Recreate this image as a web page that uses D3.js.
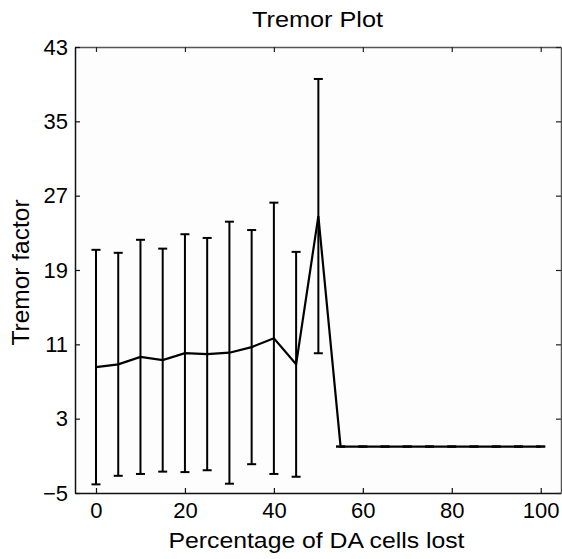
<!DOCTYPE html>
<html>
<head>
<meta charset="utf-8">
<script src="https://cdn.jsdelivr.net/npm/d3@7"></script>
<style>
  html, body { margin: 0; padding: 0; background: #fff; }
  svg { display: block; font-family: "Liberation Sans", Arial, sans-serif; }
</style>
</head>
<body>
<svg id="chart" width="562" height="559"></svg>
<script>
// ---- data ----
const percentLost = [0, 5, 10, 15, 20, 25, 30, 35, 40, 45, 50, 55, 60, 65, 70, 75, 80, 85, 90, 95, 100];
const tremorMean  = [8.55, 8.85, 9.65, 9.3, 10.05, 9.95, 10.1, 10.7, 11.65, 8.85, 24.8, 0, 0, 0, 0, 0, 0, 0, 0, 0, 0];
const tremorErr   = [12.62, 12.0, 12.6, 12.0, 12.8, 12.5, 14.1, 12.6, 14.6, 12.1, 14.76, 0, 0, 0, 0, 0, 0, 0, 0, 0, 0];
const xTicks = [0, 20, 40, 60, 80, 100];
const yTicks = [-5, 3, 11, 19, 27, 35, 43];
const titleText = "Tremor Plot";
const xLabelText = "Percentage of DA cells lost";
const yLabelText = "Tremor factor";

const svg = d3.select("#chart");
const L = 75, R = 561, T = 47, B = 493;

const x = d3.scaleLinear().domain([-4.72, 104.56]).range([L, R]);
const y = d3.scaleLinear().domain([-5, 43]).range([B, T]);

const data = percentLost.map((p, i) => ({ p, m: tremorMean[i], e: tremorErr[i] }));

// plot background
svg.append("rect").attr("x", L).attr("y", T).attr("width", R - L).attr("height", B - T)
  .attr("fill", "#fdfdfd");

// axes with inward ticks
const tickLen = 5;
const gBottom = svg.append("g").attr("transform", `translate(0,${B})`)
  .call(d3.axisBottom(x).tickValues(xTicks).tickSizeInner(-tickLen).tickSizeOuter(0).tickPadding(9));
const gTop = svg.append("g").attr("transform", `translate(0,${T})`)
  .call(d3.axisTop(x).tickValues(xTicks).tickSizeInner(-tickLen).tickSizeOuter(0).tickFormat(""));
const gLeft = svg.append("g").attr("transform", `translate(${L},0)`)
  .call(d3.axisLeft(y).tickValues(yTicks).tickSizeInner(-tickLen).tickSizeOuter(0).tickPadding(7));
const gRight = svg.append("g").attr("transform", `translate(${R},0)`)
  .call(d3.axisRight(y).tickValues(yTicks).tickSizeInner(-tickLen).tickSizeOuter(0).tickFormat(""));

[gBottom, gLeft].forEach(g => {
  g.select(".domain").attr("stroke", "#111").attr("stroke-width", 1.5);
  g.selectAll(".tick line").attr("stroke", "#111").attr("stroke-width", 1.2);
  g.selectAll(".tick text").attr("fill", "#000").attr("font-size", 22)
    .attr("font-family", "'Liberation Sans', Arial, sans-serif");
});
[gTop, gRight].forEach(g => {
  g.select(".domain").attr("stroke", "#555").attr("stroke-width", 1.5);
  g.selectAll(".tick line").attr("stroke", "#222").attr("stroke-width", 1.2);
});
gBottom.selectAll(".tick text").attr("dy", "0.71em");

// error bars
const cap = 4.5;
const eb = svg.append("g").attr("stroke", "#000").attr("stroke-width", 2).attr("fill", "none");
data.forEach(d => {
  const cx = x(d.p), yTop = y(d.m + d.e), yBot = y(d.m - d.e);
  if (d.e > 0) {
    eb.append("line").attr("x1", cx).attr("x2", cx).attr("y1", yTop).attr("y2", yBot);
  }
  eb.append("line").attr("x1", cx - cap).attr("x2", cx + cap).attr("y1", yTop).attr("y2", yTop);
  eb.append("line").attr("x1", cx - cap).attr("x2", cx + cap).attr("y1", yBot).attr("y2", yBot);
});

// mean line
svg.append("path").datum(data)
  .attr("fill", "none").attr("stroke", "#000").attr("stroke-width", 2.2)
  .attr("stroke-linejoin", "miter")
  .attr("d", d3.line().x(d => x(d.p)).y(d => y(d.m)));

// title and labels
svg.append("text").attr("x", 317.5).attr("y", 26.5).attr("text-anchor", "middle")
  .attr("font-size", 22).attr("textLength", 131).attr("lengthAdjust", "spacingAndGlyphs")
  .text(titleText);
svg.append("text").attr("x", 316.5).attr("y", 548).attr("text-anchor", "middle")
  .attr("font-size", 22).attr("textLength", 296).attr("lengthAdjust", "spacingAndGlyphs")
  .text(xLabelText);
svg.append("text").attr("transform", "translate(29,272.5) rotate(-90)").attr("text-anchor", "middle")
  .attr("font-size", 24.5)
  .text(yLabelText);
</script>
</body>
</html>
